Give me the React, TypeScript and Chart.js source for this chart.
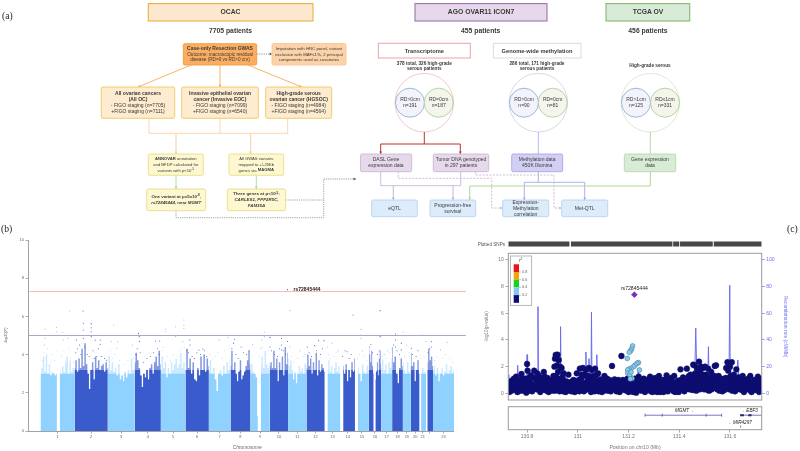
import React, { useEffect, useRef } from "react";
import { Chart, registerables } from "chart.js";
Chart.register(...registerables);

const FONT = "'Liberation Sans', Arial, sans-serif";

// ---------- Manhattan data ----------
const chromLengths = [249,243,198,191,181,171,159,146,141,135,135,133,115,107,102,90,81,78,59,63,48,51,155];
const chromLabels = ["1","2","3","4","5","6","7","8","9","10","11","12","13","14","15","16","17","18","19","20","21","","23"];
const sky1 = [3.0,3.3,3.9,3.1,4.0,3.0,3.5,2.9,3.1,3.0,2.9,3.0,null,3.2,3.0,3.4,3.1,3.6,3.9,3.0,3.7,3.1,3.3,3.1];
const sky2 = [3.3,3.7,3.1,3.8,3.3,4.3,3.4,4.6,3.5,3.0,2.2,3.2,3.6,2.7,3.9,3.3,3.7,3.2,3.4,3.5,3.1,3.6,3.3];
const sky3 = [3.3,3.9,3.2,3.6,3.1,3.3,2.9,3.5,2.7,2.9,2.6,3.1,2.8,3.2,3.0,3.8,3.2,3.4];
const sky4 = [3.6,4.1,3.7,3.3,2.9,2.3,3.0,2.8,3.2,2.7,3.3,3.5,3.0,3.6,3.9,3.4,4.2,3.5];
const sky5 = [3.2,3.9,3.3,3.6,2.8,3.3,3.0,3.6,3.2,3.5,3.8,3.3,3.5,4.1,3.3,3.6,3.2];
const sky6 = [3.2,4.3,3.3,3.8,3.0,3.6,2.7,2.6,3.3,2.9,3.9,3.2,4.0,3.1,3.8,3.4];
const sky7 = [3.1,3.7,3.0,3.3,2.7,2.1,3.0,3.2,2.9,3.4,3.0,3.6,3.2,3.8];
const sky8 = [3.4,4.2,3.2,3.6,3.0,2.6,3.1,3.7,2.7,2.9,3.1,3.4,3.7,4.2,3.5];
const sky9 = [3.1,3.5,3.1,3.0,2.8,0.8,null,3.4,3.9,3.3,4.2,3.5,3.3,3.6];
const sky10 = [3.4,3.6,3.3,4.2,3.3,3.8,2.6,3.6,3.2,3.9,2.9,4.4,3.5,4.1];
const sky11 = [3.8,3.4,3.7,3.2,2.7,3.1,2.5,3.0,3.4,3.1,3.3,3.0,3.5,3.6];
const sky12 = [3.3,4.0,3.4,3.8,3.0,3.6,3.2,4.1,2.9,3.7,3.1,3.5,3.3,3.1];
const sky13 = [null,null,3.2,3.7,3.1,3.4,3.0,3.3,3.6,3.1,3.4,3.0];
const sky14 = [null,null,3.4,3.0,3.5,2.6,3.2,2.8,3.6,3.1,3.8];
const sky15 = [null,null,3.3,3.0,2.6,3.5,3.1,3.0,3.4,3.2];
const sky16 = [4.3,4.0,3.6,4.2,3.4,3.0,null,2.7,3.1,3.6,2.9,3.8,4.2,3.5];
const sky17 = [3.3,3.7,3.2,3.5,3.0,3.6,3.3,3.8];
const sky18 = [4.4,3.6,3.9,3.0,2.5,3.3,3.8,3.4];
const sky19 = [3.6,3.2,3.0,3.6,3.1,3.4];
const sky20 = [4.1,3.4,3.6,2.6,3.2,3.7,3.0];
const sky21 = [null,3.0,3.3,3.1,3.0];
const sky22 = [null,3.6,4.3,3.7,3.9,3.4];
const sky23 = [3.2,3.4,2.9,3.3,2.6,3.0,3.3,2.9,3.1,3.5,3.0,3.2,3.4,3.1,3.2];
const skylines = [sky1,sky2,sky3,sky4,sky5,sky6,sky7,sky8,sky9,sky10,sky11,sky12,sky13,sky14,sky15,sky16,sky17,sky18,sky19,sky20,sky21,sky22,sky23];
// genome position (Mb, cumulative) and -log10(P) of the points standing clear of the mass
const manhattanPeaks = [
[32,5.34],[32,4.85],[27,4.5],[116,5.43],[119,5.2],[160,5.17],[165,4.76],[201,4.85],[213,6.28],
[311,6.28],[313,5.64],[313,5.29],[313,4.85],[371,5.62],[371,5.4],[371,5.2],[371,4.94],[400,4.76],[437,4.76],[437,4.54],[262,4.76],[286,4.5],
[536,5.55],[517,4.68],[565,4.68],[558,4.33],[674,4.5],
[718,5.11],[723,4.94],[723,4.68],[844,4.71],[873,4.71],
[917,5.34],[917,5.2],[990,5.46],[990,4.94],[1050,5.81],[1050,5.55],[1050,5.37],[1043,4.68],
[1094,4.76],[1094,4.5],[1160,4.24],[1189,4.29],
[1310,4.76],[1373,4.89],
[1422,4.8],[1414,4.6],[1470,4.4],
[1553,4.54],[1640,5.17],[1640,4.94],[1621,4.76],[1616,4.33],
[1681,4.9],[1681,4.4],[1766,4.85],[1766,4.5],[1766,4.24],[1810,4.7],[1810,7.4],
[1827,6.3],[1827,4.4],[1900,4.2],
[2038,4.73],[2077,4.73],[2009,4.47],[1955,4.4],
[2101,4.4],[2137,4.6],[2179,4.2],
[2290,6.07],[2283,5.0],[2246,4.15],
[2348,5.32],[2348,5.03],[2348,4.85],[2360,4.2],
[2489,6.3],[2489,4.94],[2421,4.54],
[2542,4.2],[2518,4.0],
[2601,5.08],[2601,4.76],[2601,4.4],[2644,4.6],[2644,4.25],
[2659,5.17],[2683,4.5],[2717,4.33],[2766,4.2],
[2795,5.03],[2824,4.68],[2863,4.68],[2863,4.4],[2979,4.64],[2931,4.25],
];
const manhattanFringe = [
[12,3.7],[24,4.1],[40,3.8],[52,4.3],[71,3.6],[88,4.0],[103,3.7],[124,4.2],[152,3.9],[171,4.2],[186,3.7],[204,4.3],[222,3.8],[240,3.6],
[258,4.1],[272,4.3],[296,4.0],[322,4.4],[342,4.0],[356,3.9],[384,4.2],[392,3.8],[412,3.9],[424,4.3],[448,3.9],[468,3.8],[482,3.7],
[500,3.9],[510,4.2],[528,3.8],[545,4.0],[578,3.7],[612,3.5],[640,3.7],[662,4.0],[682,3.8],
[698,4.0],[708,4.3],[730,4.1],[752,3.6],[780,3.8],[804,3.9],[826,4.1],[856,4.3],[868,4.0],
[890,4.2],[903,4.4],[930,3.9],[950,3.7],[972,4.0],[1006,3.9],[1022,4.2],[1036,4.3],[1056,4.4],
[1072,4.2],[1084,4.1],[1110,3.9],[1128,3.8],[1146,4.1],[1172,4.0],[1200,4.2],[1218,3.9],
[1242,4.0],[1262,3.8],[1284,3.9],[1300,4.1],[1330,3.8],[1350,4.2],[1384,4.3],
[1402,4.3],[1432,4.0],[1448,3.8],[1486,4.1],[1510,4.0],[1528,4.2],
[1544,3.9],[1600,3.9],[1628,4.4],[1652,4.0],[1668,4.2],
[1692,4.2],[1712,4.0],[1736,3.9],[1752,4.3],[1778,4.2],[1796,4.0],
[1838,3.9],[1858,3.6],[1884,3.8],[1924,3.9],[1940,4.0],
[1968,4.1],[1986,3.9],[2022,4.2],[2052,4.0],[2066,4.3],
[2110,4.0],[2124,3.8],[2152,3.9],[2166,4.1],
[2214,3.9],[2232,4.2],[2262,3.8],[2276,4.0],
[2322,3.8],[2336,4.0],[2376,3.9],[2392,3.7],
[2412,4.4],[2432,4.1],[2470,4.0],[2482,4.2],
[2508,3.9],[2530,3.8],[2560,4.1],[2570,4.3],
[2586,4.5],[2612,4.2],[2630,4.0],[2668,3.9],[2700,4.1],[2726,4.0],[2752,3.9],[2786,3.8],[2810,3.9],[2840,4.1],[2852,4.3],
[2890,3.7],[2910,3.9],[2950,3.8],[2968,4.0],[3000,3.8],[3020,3.6],
];
const leadManhattan = [1810,7.4];
const genomeWideLine = 7.3;
const suggestiveLine = 5;

// ---------- Locus data ----------
const locusNavy = [
[130.73,0.1],[130.735,0.55],[130.74,0.95],[130.745,0.25],[130.752,0.7],[130.757,1.25],[130.762,0.1],[130.768,0.45],[130.772,0.95],[130.778,1.45],[130.782,0.2],[130.787,0.65],[130.793,1.1],[130.797,0.05],[130.8,2.2],[130.802,1.7],[130.806,0.45],[130.81,0.9],[130.815,1.35],[130.82,0.15],[130.824,0.6],[130.828,1.7],[130.832,1.1],[130.838,0.3],[130.842,0.85],[130.846,1.35],[130.852,0.1],[130.856,0.55],[130.862,1.0],[130.866,1.6],[130.87,0.25],[130.875,0.75],[130.88,1.15],[130.885,0.1],[130.89,0.5],[130.895,0.95],
[130.9,0.2],[130.904,1.3],[130.908,2.0],[130.91,2.6],[130.913,2.88],[130.915,0.65],[130.918,2.1],[130.92,2.9],[130.922,1.6],[130.925,2.5],[130.928,0.15],[130.93,2.0],[130.932,1.1],[130.936,1.9],[130.94,0.55],[130.944,1.5],[130.948,0.9],[130.952,0.1],[130.958,0.6],[130.963,1.4],[130.968,0.25],[130.972,0.85],[130.978,0.4],[130.983,1.0],[130.988,0.1],[130.992,0.65],[130.996,1.5],
[131,0.25],[131.004,1.0],[131.008,1.85],[131.012,0.5],[131.016,1.4],[131.02,1.9],[131.024,0.15],[131.028,0.8],[131.032,1.75],[131.036,1.25],[131.04,0.45],[131.044,1.9],[131.048,1.0],[131.052,0.1],[131.056,1.75],[131.06,0.6],[131.064,1.3],[131.068,1.85],[131.072,0.25],[131.076,0.95],[131.08,1.5],[131.085,0.5],[131.09,1.05],[131.095,0.1],[131.1,0.7],[131.105,1.3],[131.11,0.3],[131.115,1.1],[131.12,0.55],[131.125,1.0],[131.13,0.15],[131.135,2.05],[131.14,0.7],[131.145,1.05],[131.15,0.3],[131.155,0.9],[131.16,1.0],[131.165,0.1],[131.172,2.8],[131.17,0.6],[131.178,1.0],[131.184,0.25],[131.19,0.75],[131.196,1.1],
[131.2,0.1],[131.205,0.55],[131.21,0.95],[131.215,0.25],[131.22,0.7],[131.225,1.1],[131.23,0.05],[131.235,0.5],[131.24,1.25],[131.245,0.8],[131.25,0.2],[131.255,0.65],[131.26,1.1],[131.265,0.1],[131.27,0.5],[131.275,0.95],[131.28,0.3],[131.285,1.25],[131.29,0.7],[131.295,0.1],[131.3,0.55],[131.305,1.15],[131.31,0.25],[131.315,0.8],[131.32,1.3],[131.325,0.1],[131.33,0.6],[131.335,1.0],[131.34,0.3],[131.345,0.8],[131.35,1.35],[131.355,0.15],[131.36,0.6],[131.365,1.0],[131.37,0.3],[131.375,0.85],[131.38,1.3],[131.385,0.1],[131.39,0.55],[131.395,0.95],
[131.4,0.25],[131.405,1.8],[131.41,0.7],[131.415,1.2],[131.42,0.15],[131.425,0.6],[131.43,1.85],[131.435,1.0],[131.44,0.3],[131.445,1.4],[131.45,0.8],[131.455,2.15],[131.46,2.1],[131.463,1.5],[131.467,0.2],[131.47,1.9],[131.475,0.65],[131.478,2.37],[131.482,1.6],[131.486,2.0],[131.49,1.05],[131.494,1.9],[131.498,0.3],[131.502,2.0],[131.506,1.4],[131.51,0.75],[131.514,1.85],[131.518,0.2],[131.522,1.2],[131.526,1.6],[131.53,0.55],[131.535,1.0],[131.54,2.05],[131.545,2.1],[131.55,0.3],[131.555,1.3],[131.56,0.7],[131.565,1.1],[131.57,0.15],[131.575,1.0],[131.58,0.6],[131.585,1.9],[131.59,2.33],[131.593,1.7],[131.597,0.3],[131.6,2.0],[131.603,1.3],[131.607,2.33],[131.61,0.8],[131.615,1.4],[131.62,0.15],[131.625,1.8],[131.63,0.7],[131.635,1.2],
[131.64,0.3],[131.645,0.95],[131.65,1.3],[131.655,0.1],[131.66,0.6],[131.665,1.0],[131.67,0.3],[131.675,0.85],[131.68,1.3],[131.685,0.1],[131.69,0.5],[131.695,1.0],[131.7,0.25],[131.705,0.75],[131.71,1.25],[131.715,0.1],[131.72,0.6],[131.722,1.05],
];
const locusNavyFill = [
[130.728,0.4],[130.733,0.8],[130.738,0.2],[130.743,0.6],[130.748,1.1],[130.754,0.35],[130.759,0.85],[130.765,0.6],[130.77,0.2],[130.775,0.75],[130.78,1.15],[130.785,0.4],[130.79,0.85],[130.795,0.3],[130.804,0.75],[130.808,1.15],[130.812,0.2],[130.818,0.7],[130.822,1.2],[130.827,0.35],[130.835,0.7],[130.84,1.5],[130.844,0.3],[130.849,0.75],[130.854,1.15],[130.859,0.3],[130.864,0.65],[130.869,1.25],[130.873,0.45],[130.878,0.2],[130.883,0.8],[130.888,1.0],[130.892,0.25],[130.897,0.7],
[130.902,0.45],[130.906,0.9],[130.91,0.2],[130.914,1.3],[130.918,0.5],[130.923,1.0],[130.927,0.4],[130.931,0.75],[130.935,0.3],[130.939,1.2],[130.943,0.15],[130.946,0.65],[130.95,0.4],[130.955,0.9],[130.96,0.2],[130.965,0.75],[130.97,0.5],[130.975,0.15],[130.98,0.75],[130.985,0.3],[130.99,0.9],[130.994,0.25],[130.998,0.8],
[131.002,0.45],[131.006,0.15],[131.01,0.85],[131.014,1.15],[131.018,0.4],[131.022,0.75],[131.026,1.4],[131.03,0.25],[131.034,0.6],[131.038,0.85],[131.042,1.3],[131.046,0.3],[131.05,0.65],[131.054,1.25],[131.058,0.3],[131.062,1.0],[131.066,0.15],[131.07,0.7],[131.074,1.4],[131.078,0.45],[131.082,0.15],[131.087,0.8],[131.092,0.35],[131.097,0.9],[131.102,0.2],[131.107,0.65],[131.112,0.85],[131.117,0.2],[131.122,0.9],[131.127,0.35],[131.132,0.75],[131.138,0.3],[131.143,0.55],[131.148,0.8],[131.153,0.15],[131.158,0.5],[131.163,0.7],[131.168,0.3],[131.175,0.35],[131.181,0.75],[131.187,0.5],[131.193,0.2],[131.198,0.7],
[131.203,0.25],[131.208,0.75],[131.213,0.5],[131.218,0.1],[131.223,0.4],[131.228,0.85],[131.233,0.3],[131.238,0.85],[131.243,0.3],[131.248,0.6],[131.253,1.0],[131.258,0.35],[131.263,0.8],[131.268,0.25],[131.273,0.7],[131.278,1.05],[131.283,0.55],[131.288,0.15],[131.293,0.9],[131.298,0.35],[131.303,0.8],[131.308,0.5],[131.313,0.1],[131.318,0.55],[131.323,0.95],[131.328,0.35],[131.333,0.8],[131.338,0.1],[131.343,0.5],[131.348,1.05],[131.353,0.65],[131.358,0.3],[131.363,0.85],[131.368,1.15],[131.373,0.55],[131.378,0.15],[131.383,0.75],[131.388,0.3],[131.393,0.75],[131.398,0.1],
[131.403,0.55],[131.407,1.0],[131.412,0.35],[131.418,0.8],[131.423,1.1],[131.428,0.35],[131.433,0.7],[131.438,1.3],[131.443,0.55],[131.447,1.0],[131.452,0.25],[131.457,1.3],[131.461,0.6],[131.465,1.0],[131.469,0.4],[131.473,1.3],[131.477,0.9],[131.481,0.3],[131.484,1.1],[131.488,0.55],[131.492,1.4],[131.496,0.75],[131.5,1.15],[131.504,0.5],[131.508,1.1],[131.512,0.25],[131.516,0.9],[131.52,0.55],[131.524,0.85],[131.528,0.3],[131.533,0.8],[131.538,1.3],[131.543,0.4],[131.548,0.95],[131.553,0.65],[131.558,0.2],[131.563,0.85],[131.568,0.45],[131.573,0.7],[131.578,0.25],[131.583,1.15],[131.588,0.6],[131.592,1.1],[131.595,0.8],[131.599,1.2],[131.602,0.5],[131.606,1.0],[131.609,0.2],[131.613,0.9],[131.618,0.55],[131.622,1.1],[131.627,0.3],[131.632,1.0],[131.637,0.55],
[131.642,0.65],[131.647,0.25],[131.652,0.7],[131.657,1.0],[131.662,0.3],[131.667,0.75],[131.672,1.1],[131.677,0.5],[131.682,0.2],[131.687,0.75],[131.692,0.25],[131.697,0.65],[131.702,0.85],[131.707,0.3],[131.712,0.7],[131.717,0.4],[131.721,0.2],
];
const locusLightBlue = [
[131.216,3.55],[131.212,3.32],[131.208,3.18],[131.203,3.08],[131.195,2.62],[131.239,2.3],[131.233,2.25],[131.226,2.12],[131.22,2.0],[131.21,1.88],[131.202,1.82],[131.197,1.75],[131.197,1.5],[131.205,1.38],[131.214,1.12],[131.207,1.08],[131.243,1.75],[131.21,1.6],
];
const leadLocus = [131.223,7.4];
const leadName = "rs72845444";
const recombination = [
[130.726,2],[130.728,14],[130.731,3],[130.75,4],[130.761,3],[130.763,21],[130.765,3],[130.78,5],[130.798,4],[130.8,29],[130.802,4],[130.82,3],[130.841,4],[130.843,65],[130.845,4],[130.87,5],[130.882,4],[130.884,13],[130.886,3],[130.93,5],[130.932,50],[130.934,5],[130.945,4],[130.947,17],[130.949,3],[130.99,4],[131.03,5],[131.032,31],[131.034,5],[131.042,4],[131.044,26],[131.046,4],[131.052,5],[131.054,61],[131.056,5],[131.073,4],[131.075,29],[131.077,3],[131.14,2],[131.2,3],[131.236,3],[131.238,16],[131.24,3],[131.3,2],[131.4,3],[131.46,4],[131.465,49],[131.47,5],[131.512,4],[131.515,35],[131.518,4],[131.55,3],[131.596,4],[131.599,81],[131.601,4],[131.625,6],[131.631,25],[131.637,5],[131.68,3],[131.682,15],[131.684,3],[131.71,2],[131.712,12],[131.714,2],[131.725,3],
];
const snpRugSegments = [[130.726,130.967],[130.973,131.373],[131.376,131.4],[131.403,131.532],[131.536,131.725]];
const locusXTicks = [130.8,131,131.2,131.4,131.6];
const mgmtSpan = [131.265,131.567];
const mgmtExons = [131.265,131.333,131.506,131.567];
const ebf3Span = [131.64,131.725];
const ebf3Exons = [[131.64,131.655],[131.672,131.685]];
const mirTick = [131.642];

const LIGHT = "#8fd1ff";
const DARK = "#3a5bcb";
const REC = "#6d6df0";
const AX = "#8a8a8a";
const TXT = "#777";

function useChart(factory: () => any) {
  const ref = useRef<HTMLCanvasElement | null>(null);
  useEffect(() => {
    const c = new Chart(ref.current as HTMLCanvasElement, factory());
    return () => c.destroy();
  }, []);
  return ref;
}

const chromStarts = chromLengths.reduce((acc: number[], l, i) => { acc.push(i === 0 ? 0 : acc[i - 1] + chromLengths[i - 1]); return acc; }, []);
const chromOf = (mb: number) => { let k = 0; chromStarts.forEach((s, i) => { if (mb >= s) k = i; }); return k; };

function manhattanConfig() {
  const xMin = -88.6, xMax = 3118;
  const sets: any[] = [];
  const toXY = (p: number[]) => ({ x: p[0], y: p[1] });
  sets.push({ type: "line", data: [{ x: xMin, y: genomeWideLine }, { x: xMax, y: genomeWideLine }], borderColor: "#f7b9b9", borderWidth: 1, pointRadius: 0 });
  sets.push({ type: "line", data: [{ x: xMin, y: suggestiveLine }, { x: xMax, y: suggestiveLine }], borderColor: "#a8a8c6", borderWidth: 1, pointRadius: 0 });
  sets.push({ type: "scatter", data: manhattanPeaks.filter(p => chromOf(p[0]) % 2 === 0).map(toXY), pointRadius: 0.55, pointBackgroundColor: "#74c2fb", pointBorderWidth: 0 });
  sets.push({ type: "scatter", data: manhattanPeaks.filter(p => chromOf(p[0]) % 2 === 1).map(toXY), pointRadius: 0.55, pointBackgroundColor: DARK, pointBorderWidth: 0 });
  sets.push({ type: "scatter", data: manhattanFringe.filter(p => chromOf(p[0]) % 2 === 0).map(toXY), pointRadius: 0.5, pointBackgroundColor: "#a9dcff", pointBorderWidth: 0 });
  sets.push({ type: "scatter", data: manhattanFringe.filter(p => chromOf(p[0]) % 2 === 1).map(toXY), pointRadius: 0.5, pointBackgroundColor: DARK, pointBorderWidth: 0 });
  skylines.forEach((sky, c) => {
    const step = chromLengths[c] / (sky.length - 1);
    const odd = c % 2 === 1;
    const cap = odd ? 3.2 : 3.0;
    const pts = (f: (v: number) => number) => sky.map((v, i) => ({ x: chromStarts[c] + i * step, y: v === null ? null : f(v as number) }));
    sets.push({
      type: "line", data: pts(v => Math.min(v, cap)), borderWidth: 0, pointRadius: 0, stepped: "middle", spanGaps: false,
      fill: "origin", backgroundColor: odd ? DARK : LIGHT,
    });
    sets.push({
      type: "line", data: pts(v => v), borderWidth: 0, pointRadius: 0, stepped: "middle", spanGaps: false,
      fill: "origin", backgroundColor: odd ? "rgba(58,91,203,0.62)" : "rgba(143,209,255,0.45)",
    });
  });
  const labelPlugin = {
    id: "leadLabel",
    afterDraw(ch: any) {
      const g = ch.ctx;
      g.save();
      g.fillStyle = "#222";
      g.font = `bold 5px ${FONT}`;
      g.textBaseline = "middle";
      g.fillText(leadName, ch.scales.x.getPixelForValue(leadManhattan[0]) + 6, ch.scales.y.getPixelForValue(leadManhattan[1]) - 0.5);
      g.strokeStyle = AX; g.lineWidth = 0.8;
      g.beginPath();
      g.moveTo(ch.chartArea.left, ch.chartArea.bottom + 0.5);
      g.lineTo(ch.scales.x.getPixelForValue(3031), ch.chartArea.bottom + 0.5);
      g.stroke();
      g.restore();
    },
  };
  return {
    type: "scatter",
    data: { datasets: sets },
    plugins: [labelPlugin],
    options: {
      animation: false, responsive: false, events: [],
      layout: { padding: { left: 4, top: 10, right: 0, bottom: 0 } },
      plugins: { legend: { display: false }, tooltip: { enabled: false } },
      scales: {
        x: {
          type: "linear", min: xMin, max: xMax,
          afterFit: (s: any) => { s.height = 20; },
          afterBuildTicks: (s: any) => { s.ticks = chromLengths.map((l, i) => ({ value: chromStarts[i] + l / 2, label: chromLabels[i] })); },
          afterTickToLabelConversion: (s: any) => { s.ticks.forEach((t: any, i: number) => { t.label = chromLabels[i]; }); },
          border: { display: false },
          grid: { drawOnChartArea: false, drawTicks: true, tickLength: 2.5, color: AX, lineWidth: 0.7 },
          ticks: { autoSkip: false, maxRotation: 0, color: "#666", padding: 1, font: { size: 4, family: FONT } },
          title: { display: true, text: "Chromosome", color: "#666", padding: { top: 1, bottom: 0 }, font: { size: 4.8, family: FONT, style: "italic" } },
        },
        y: {
          min: 0, max: 10,
          afterFit: (s: any) => { s.width = 24.5; },
          ticks: { stepSize: 2, color: "#666", padding: 1.5, font: { size: 4, family: FONT } },
          border: { color: AX, width: 0.8 },
          grid: { drawOnChartArea: false, drawTicks: true, tickLength: 3, color: AX, lineWidth: 0.7 },
          title: { display: true, text: "-log10(P)", color: "#666", padding: { top: 0, bottom: 0 }, font: { size: 3.9, family: FONT, style: "italic" } },
        },
      },
    },
  };
}

const LOCUS_MIN = 130.726, LOCUS_MAX = 131.725;

function locusConfig() {
  const framePlugin = {
    id: "frame",
    afterDraw(ch: any) {
      const a = ch.chartArea, g = ch.ctx;
      g.save();
      g.strokeStyle = "#9a9a9a"; g.lineWidth = 1;
      g.strokeRect(a.left, a.top, a.right - a.left, a.bottom - a.top);
      g.fillStyle = "#222"; g.font = `5.1px ${FONT}`; g.textAlign = "center";
      g.fillText(leadName, ch.scales.x.getPixelForValue(leadLocus[0]), ch.scales.y.getPixelForValue(leadLocus[1]) - 4.5);
      g.restore();
    },
  };
  const navy = { type: "scatter", pointRadius: 2.9, pointBackgroundColor: "#0b0b78", pointBorderColor: "#14145a", pointBorderWidth: 0.5, yAxisID: "y" };
  return {
    type: "scatter",
    data: {
      datasets: [
        { type: "scatter", data: [{ x: leadLocus[0], y: leadLocus[1] }], pointStyle: "rectRot", pointRadius: 3, pointBackgroundColor: "#7b2fbe", pointBorderColor: "#7b2fbe", pointBorderWidth: 0.5, yAxisID: "y" },
        { type: "scatter", data: locusLightBlue.map(p => ({ x: p[0], y: p[1] })), pointRadius: 2.4, pointBackgroundColor: "#87ceeb", pointBorderColor: "#4a78a8", pointBorderWidth: 0.6, yAxisID: "y" },
        { ...navy, data: locusNavy.map(p => ({ x: p[0], y: p[1] })) },
        { ...navy, data: locusNavyFill.map(p => ({ x: p[0], y: p[1] })) },
        { type: "line", data: recombination.map(p => ({ x: p[0], y: p[1] })), borderColor: REC, borderWidth: 1, pointRadius: 0, tension: 0, yAxisID: "y1" },
      ],
    },
    plugins: [framePlugin],
    options: {
      animation: false, responsive: false, events: [],
      layout: { padding: { left: 14, right: 12, top: 5.3, bottom: 5 } },
      plugins: { legend: { display: false }, tooltip: { enabled: false } },
      scales: {
        x: { type: "linear", display: false, min: LOCUS_MIN, max: LOCUS_MAX },
        y: {
          min: -0.5, max: 10.5,
          afterFit: (s: any) => { s.width = 24.3; },
          afterBuildTicks: (s: any) => { s.ticks = [0, 2, 4, 6, 8, 10].map(v => ({ value: v })); },
          border: { display: false },
          grid: { drawOnChartArea: false, drawTicks: true, tickLength: 3, color: AX, lineWidth: 0.7 },
          ticks: { color: TXT, padding: 1.5, font: { size: 5, family: FONT } },
          title: { display: true, text: "-log10(p-value)", color: TXT, padding: { top: 0, bottom: 1 }, font: { size: 4.6, family: FONT } },
        },
        y1: {
          position: "right", min: -5, max: 105,
          afterFit: (s: any) => { s.width = 26.3; },
          afterBuildTicks: (s: any) => { s.ticks = [0, 20, 40, 60, 80, 100].map(v => ({ value: v })); },
          border: { display: false },
          grid: { drawOnChartArea: false, drawTicks: true, tickLength: 3, color: REC, lineWidth: 0.7 },
          ticks: { color: REC, padding: 1.5, font: { size: 5, family: FONT } },
          title: { display: true, text: "Recombination rate (cM/Mb)", color: REC, padding: { top: 0, bottom: 1 }, font: { size: 4.9, family: FONT } },
        },
      },
    },
  };
}

function rugConfig() {
  return {
    type: "line",
    data: {
      datasets: snpRugSegments.map(s => ({
        data: [{ x: s[0], y: 0 }, { x: s[1], y: 0 }], borderColor: "#474747", borderWidth: 5, pointRadius: 0, borderCapStyle: "butt",
      })),
    },
    options: {
      animation: false, responsive: false, events: [],
      layout: { padding: { left: 38.3, right: 38.3, top: 0, bottom: 0 } },
      plugins: { legend: { display: false }, tooltip: { enabled: false } },
      scales: { x: { type: "linear", display: false, min: LOCUS_MIN, max: LOCUS_MAX }, y: { display: false, min: -1, max: 1 } },
    },
  };
}

function geneConfig() {
  const GENE = "#3c3ca8";
  const gp = {
    id: "genes",
    afterDraw(ch: any) {
      const a = ch.chartArea, g = ch.ctx, X = ch.scales.x, Y = ch.scales.y;
      g.save();
      g.strokeStyle = "#9a9a9a"; g.lineWidth = 1;
      g.strokeRect(a.left, a.top, a.right - a.left, a.bottom - a.top);
      g.fillStyle = "#222"; g.font = `italic 4.6px ${FONT}`; g.textAlign = "center"; g.textBaseline = "middle";
      g.fillText("MGMT→", X.getPixelForValue(131.42), Y.getPixelForValue(2.44));
      g.fillText("←EBF3", X.getPixelForValue(131.678), Y.getPixelForValue(2.44));
      g.fillText("←MIR4297", X.getPixelForValue(131.64), Y.getPixelForValue(0.87));
      g.restore();
    },
  };
  return {
    type: "line",
    data: {
      datasets: [
        { data: mgmtSpan.map(x => ({ x, y: 1.89 })), borderColor: GENE, borderWidth: 0.7, pointRadius: 0 },
        { type: "scatter", data: mgmtExons.map(x => ({ x, y: 1.89 })), pointStyle: "line", rotation: 90, pointRadius: 1.5, pointBorderColor: GENE, pointBorderWidth: 0.7 },
        { data: ebf3Span.map(x => ({ x, y: 1.89 })), borderColor: GENE, borderWidth: 0.7, pointRadius: 0 },
        ...ebf3Exons.map(e => ({ data: e.map(x => ({ x, y: 1.89 })), borderColor: "#14146e", borderWidth: 2, pointRadius: 0 })),
        { type: "scatter", data: mirTick.map(x => ({ x, y: 0.41 })), pointStyle: "line", rotation: 90, pointRadius: 1, pointBorderColor: GENE, pointBorderWidth: 0.7 },
      ],
    },
    plugins: [gp],
    options: {
      animation: false, responsive: false, events: [],
      layout: { padding: { left: 38.3, right: 38.3, top: 4, bottom: 0 } },
      plugins: { legend: { display: false }, tooltip: { enabled: false } },
      scales: {
        x: {
          type: "linear", min: LOCUS_MIN, max: LOCUS_MAX,
          afterFit: (s: any) => { s.height = 21.3; },
          afterBuildTicks: (s: any) => { s.ticks = locusXTicks.map(v => ({ value: v })); },
          border: { display: false },
          grid: { drawOnChartArea: false, drawTicks: true, tickLength: 3, color: AX, lineWidth: 0.7 },
          ticks: { color: TXT, padding: 1, maxRotation: 0, font: { size: 5, family: FONT }, callback: (v: number) => String(v) },
          title: { display: true, text: "Position on chr10 (Mb)", color: TXT, padding: { top: 1, bottom: 0 }, font: { size: 5.1, family: FONT } },
        },
        y: { display: false, min: 0, max: 3 },
      },
    },
  };
}

// ---------- Flowchart parts ----------
type BoxP = { x: number; y: number; x2: number; y2: number; fill: string; stroke: string; sw?: number; r?: number };
const Box = ({ x, y, x2, y2, fill, stroke, sw = 0.9, r = 1.5 }: BoxP) => (
  <rect x={x} y={y} width={x2 - x} height={y2 - y} fill={fill} stroke={stroke} strokeWidth={sw} rx={r} />
);
const T = ({ x, y, size = 5, bold, color = "#3a3a3a", children }: any) => (
  <text x={x} y={y} fontSize={size} fontWeight={bold ? 700 : 400} fill={color} textAnchor="middle" dominantBaseline="middle" fontFamily={FONT}>{children}</text>
);
const Path = ({ pts, color, w = 0.9, dash, head = true }: any) => {
  const n = pts.length;
  const [ax, ay] = pts[n - 2], [bx, by] = pts[n - 1];
  const l = Math.hypot(bx - ax, by - ay) || 1;
  const ux = (bx - ax) / l, uy = (by - ay) / l;
  const s = 2.4;
  return (
    <g>
      <polyline points={pts.map((p: number[]) => p.join(",")).join(" ")} fill="none" stroke={color} strokeWidth={w} strokeDasharray={dash} />
      {head && <polygon points={`${bx},${by} ${bx - ux * s - uy * s * 0.6},${by - uy * s + ux * s * 0.6} ${bx - ux * s + uy * s * 0.6},${by - uy * s - ux * s * 0.6}`} fill={color} />}
    </g>
  );
};
const Circ = ({ cx, r, stroke, fill = "#fff", cy = 102.7 }: any) => <circle cx={cx} cy={cy} r={r} stroke={stroke} fill={fill} strokeWidth={0.8} />;

const Flow = () => (
  <svg width={800} height={451} style={{ position: "absolute", left: 0, top: 0, pointerEvents: "none" }}>
    <text x={2} y={19} fontSize={9.6} fontFamily="'Liberation Serif', serif" fill="#222">(a)</text>
    <text x={1} y={232} fontSize={9.6} fontFamily="'Liberation Serif', serif" fill="#222">(b)</text>
    <text x={787} y={232} fontSize={9.6} fontFamily="'Liberation Serif', serif" fill="#222">(c)</text>

    {/* headers */}
    <Box x={148.3} y={3.6} x2={313} y2={21} fill="#fbe8cf" stroke="#eab23f" sw={1.1} r={0} />
    <T x={230.5} y={11.8} size={6.8} bold>OCAC</T>
    <T x={230.5} y={31} size={6.8} bold>7705 patients</T>
    <Box x={415} y={3.6} x2={547} y2={21} fill="#e8d8ec" stroke="#9a76a8" sw={1.1} r={0} />
    <T x={481} y={11.8} size={6.8} bold>AGO OVAR11 ICON7</T>
    <T x={480.7} y={31} size={6.8} bold>455 patients</T>
    <Box x={606} y={3.6} x2={689.7} y2={21} fill="#d8ebd6" stroke="#86b96c" sw={1.1} r={0} />
    <T x={648} y={11.8} size={6.8} bold>TCGA OV</T>
    <T x={648} y={31} size={6.8} bold>456 patients</T>

    {/* OCAC arrows */}
    <Path pts={[[191, 65], [138, 87]]} color="#f5ad52" />
    <Path pts={[[220, 65], [220, 87]]} color="#f5ad52" />
    <Path pts={[[248, 65], [301.7, 87]]} color="#f5ad52" />
    <Path pts={[[257, 54], [272, 54]]} color="#555" w={0.6} dash="1.2 1" />
    <polyline points="149,118 149,133.3 287.7,133.3 287.7,118" fill="none" stroke="#fbd2a8" strokeWidth={0.9} />
    <line x1={220} y1={118} x2={220} y2={133.3} stroke="#fbd2a8" strokeWidth={0.9} />
    <Path pts={[[176, 133.3], [176, 154]]} color="#fbc797" />
    <Path pts={[[250.7, 133.3], [250.7, 154]]} color="#fbc797" />
    <Path pts={[[176, 175.3], [176, 189]]} color="#a8dc8c" />
    <Path pts={[[256.3, 175.3], [256.3, 189]]} color="#a8dc8c" />
    <polyline points="176,210.7 176,217.7 323.7,217.7 323.7,179" fill="none" stroke="#666" strokeWidth={0.6} strokeDasharray="1.2 1" />
    <polyline points="285.7,200 323.7,200" fill="none" stroke="#666" strokeWidth={0.6} strokeDasharray="1.2 1" />
    <Path pts={[[323.7, 179], [356, 179]]} color="#555" w={0.6} dash="1.2 1" />

    <Box x={183.3} y={43.7} x2={256.7} y2={65} fill="#fbae62" stroke="#f09b3c" />
    <T x={220} y={48.2} size={5} bold>Case-only Resection GWAS</T>
    <T x={220} y={54.3} size={4.7}>Outcome: macroscopic residual</T>
    <T x={220} y={60.2} size={4.7}>disease (RD=0 vs RD&gt;0 cm)</T>
    <Box x={272} y={43.5} x2={346} y2={65} fill="#fcd2a8" stroke="#fbc591" />
    <T x={309} y={48.5} size={4.3}>Imputation with HRC panel, variant</T>
    <T x={309} y={54.4} size={4.3}>exclusion with MAF≤1%, 2 principal</T>
    <T x={309} y={60.2} size={4.3}>components used as covariates</T>

    <Box x={101.3} y={87} x2={174.7} y2={118.3} fill="#fdeccf" stroke="#eeca62" />
    <T x={138} y={94} bold>All ovarian cancers</T>
    <T x={138} y={100} bold>(All OC)</T>
    <T x={138} y={106}>- FIGO staging (n=7705)</T>
    <T x={138} y={112}>+FIGO staging (n=7111)</T>
    <Box x={181.7} y={87} x2={258.3} y2={118.3} fill="#fdeccf" stroke="#eeca62" />
    <T x={220} y={94} bold>Invasive epithelial ovarian</T>
    <T x={220} y={100} bold>cancer (Invasive EOC)</T>
    <T x={220} y={106}>- FIGO staging (n=7099)</T>
    <T x={220} y={112}>+FIGO staging (n=6540)</T>
    <Box x={265.7} y={87} x2={331.7} y2={118.3} fill="#fdeccf" stroke="#eeca62" />
    <T x={298.7} y={94} bold>High-grade serous</T>
    <T x={298.7} y={100} bold>ovarian cancer (HGSOC)</T>
    <T x={298.7} y={106}>- FIGO staging (n=4984)</T>
    <T x={298.7} y={112}>+FIGO staging (n=4564)</T>

    <Box x={148.3} y={154} x2={203.3} y2={175.3} fill="#fdf8d2" stroke="#e9df82" />
    <T x={175.8} y={158.8} size={4.2}><tspan fontWeight={700}>ANNOVAR</tspan> annotation</T>
    <T x={175.8} y={164.6} size={4.2}>and BFDP calculated for</T>
    <T x={175.8} y={170.4} size={4.2}>variants with p&lt;10<tspan fontSize={3} dy={-1.2}>-5</tspan></T>
    <Box x={229} y={154} x2={283.7} y2={175.3} fill="#fdf8d2" stroke="#e9df82" />
    <T x={256.3} y={158.8} size={4.2}>All GWAS variants</T>
    <T x={256.3} y={164.6} size={4.2}>mapped to +/-25Kb</T>
    <T x={256.3} y={170.4} size={4.2}>genes via <tspan fontWeight={700}>MAGMA</tspan></T>
    <Box x={146.7} y={189} x2={205.7} y2={210.7} fill="#fdf8d2" stroke="#e9df82" />
    <T x={176.2} y={196.5} size={4.4} bold>One variant at p=5x10<tspan fontSize={3} dy={-1.2}>-8</tspan><tspan dy={1.2}>,</tspan></T>
    <T x={176.2} y={203} size={4.4} bold><tspan fontStyle="italic">rs72845444</tspan>, near <tspan fontStyle="italic">MGMT</tspan></T>
    <Box x={227.3} y={189} x2={285.7} y2={210.7} fill="#fdf8d2" stroke="#e9df82" />
    <T x={256.5} y={194} size={4.4} bold>Three genes at p&lt;10<tspan fontSize={3} dy={-1.2}>-5</tspan><tspan dy={1.2}>:</tspan></T>
    <T x={256.5} y={200} size={4.4} bold><tspan fontStyle="italic">CARLES1, PPP2R5C,</tspan></T>
    <T x={256.5} y={206} size={4.4} bold><tspan fontStyle="italic">FAM35A</tspan></T>

    {/* AGO */}
    <Box x={378.3} y={43.3} x2={470.3} y2={58} fill="#fff" stroke="#e8a5a5" sw={1} r={0} />
    <T x={424.3} y={51} size={5.7} bold>Transcriptome</T>
    <Box x={493.3} y={43.3} x2={581} y2={58} fill="#fff" stroke="#e3d6e6" sw={1} r={0} />
    <T x={537} y={51} size={5.7} bold>Genome-wide methylation</T>
    <T x={424.3} y={63.3} size={4.7} bold>378 total, 326 high-grade</T>
    <T x={424.3} y={69.2} size={4.7} bold>serous patients</T>
    <T x={537} y={63.3} size={4.7} bold>286 total, 171 high-grade</T>
    <T x={537} y={69.2} size={4.7} bold>serous patients</T>
    <T x={650} y={66.2} size={4.7} bold>High-grade serous</T>

    <Circ cx={424.3} r={29.3} stroke="#f0bcb8" />
    <Circ cx={410} r={14.5} stroke="#8aa6d2" fill="#f3f4fb" />
    <Circ cx={438.7} r={14.5} stroke="#a6c890" fill="#f4f6ec" />
    <T x={410} y={100}>RD&gt;0cm</T><T x={410} y={106}>n=191</T>
    <T x={438.7} y={100}>RD=0cm</T><T x={438.7} y={106}>n=187</T>
    <Circ cx={538.3} r={29.3} stroke="#cfcde6" />
    <Circ cx={524} r={14.5} stroke="#8aa6d2" fill="#f3f4fb" />
    <Circ cx={552.7} r={14.5} stroke="#a6c890" fill="#f4f6ec" />
    <T x={524} y={100}>RD&gt;0cm</T><T x={524} y={106}>n=90</T>
    <T x={552.7} y={100}>RD=0cm</T><T x={552.7} y={106}>n=81</T>
    <Circ cx={650.3} r={29.3} stroke="#cfe6c6" />
    <Circ cx={636} r={14.5} stroke="#8aa6d2" fill="#f3f4fb" />
    <Circ cx={665} r={14.5} stroke="#a6c890" fill="#f4f6ec" />
    <T x={636} y={100}>RD&gt;1cm</T><T x={636} y={106}>n=125</T>
    <T x={665} y={100}>RD≤1cm</T><T x={665} y={106}>n=331</T>

    <polyline points="424.3,132 424.3,144" fill="none" stroke="#b8352f" strokeWidth={1} />
    <Path pts={[[424.3, 144], [380.7, 144], [380.7, 154]]} color="#b8352f" w={1} />
    <Path pts={[[424.3, 144], [460.3, 144], [460.3, 154]]} color="#b8352f" w={1} />
    <polyline points="538.3,132 538.3,154" fill="none" stroke="#b3aef5" strokeWidth={0.9} />
    <polyline points="538.3,171.7 538.3,182.3" fill="none" stroke="#a9a4f5" strokeWidth={0.9} />
    <Path pts={[[538.3, 182.3], [524.3, 182.3], [524.3, 200]]} color="#a9a4f5" />
    <Path pts={[[538.3, 182.3], [584.7, 182.3], [584.7, 200]]} color="#a9a4f5" />
    <polyline points="650.3,132 650.3,154" fill="none" stroke="#aed898" strokeWidth={0.9} />
    <Path pts={[[650.3, 171.7], [650.3, 186], [469.7, 186], [469.7, 200]]} color="#a5d48a" />
    <polyline points="380.7,171.7 380.7,185.7 460.7,185.7 460.7,171.7" fill="none" stroke="#cbb6da" strokeWidth={0.9} />
    <Path pts={[[393.3, 185.7], [393.3, 200]]} color="#c3aed6" />
    <Path pts={[[453, 185.7], [453, 200]]} color="#c3aed6" />
    <Path pts={[[398.3, 171.7], [398.3, 178.3], [491.7, 178.3], [491.7, 208], [502.7, 208]]} color="#c9b3da" dash="2 1.4" />
    <Path pts={[[475.7, 171.7], [475.7, 175], [554, 175], [554, 208], [561.7, 208]]} color="#c9b3da" dash="2 1.4" />

    <Box x={360.5} y={154} x2={411.7} y2={171.7} fill="#e6d9ea" stroke="#cdb9d6" />
    <T x={386} y={159.7}>DASL Gene</T><T x={386} y={165.7}>expression data</T>
    <Box x={433.3} y={154} x2={488.7} y2={171.7} fill="#e6d9ea" stroke="#cdb9d6" />
    <T x={461} y={159.7}>Tumor DNA genotyped</T><T x={461} y={165.7}>in 297 patients</T>
    <Box x={511.7} y={154} x2={562.7} y2={171.7} fill="#d2cff3" stroke="#aaa6e8" />
    <T x={537.2} y={159.7}>Methylation data</T><T x={537.2} y={165.7}>450K Illumina</T>
    <Box x={624.3} y={154} x2={675.7} y2={171.7} fill="#d8ebd6" stroke="#b8d9a8" />
    <T x={650} y={159.7}>Gene expression</T><T x={650} y={165.7}>data</T>

    <Box x={371.7} y={200} x2={417.3} y2={216.7} fill="#dcecfb" stroke="#b8d3ee" />
    <T x={394.5} y={208.5}>eQTL</T>
    <Box x={430} y={200} x2={475.7} y2={216.7} fill="#dcecfb" stroke="#b8d3ee" />
    <T x={452.8} y={205.2}>Progression-free</T><T x={452.8} y={211.2}>survival</T>
    <Box x={502.7} y={200} x2={548.7} y2={216.7} fill="#dcecfb" stroke="#b8d3ee" />
    <T x={525.7} y={202.4}>Expression-</T><T x={525.7} y={208.3}>Methylation</T><T x={525.7} y={214.2}>correlation</T>
    <Box x={561.7} y={200} x2={607.7} y2={216.7} fill="#dcecfb" stroke="#b8d3ee" />
    <T x={584.7} y={208.5}>Met-QTL</T>

    {/* Locus annotations */}
    <text x={505} y={244.5} fontSize={4.6} textAnchor="end" dominantBaseline="middle" fontFamily={FONT} fill="#555">Plotted SNPs</text>
    <rect x={510.3} y={256} width={21.4} height={49.3} fill="#fff" stroke="#9a9a9a" strokeWidth={0.7} />
    <text x={520.5} y={261.5} fontSize={4.5} fontStyle="italic" textAnchor="middle" fontFamily={FONT} fill="#444">r<tspan fontSize={3} dy={-1.5}>2</tspan></text>
    <rect x={513.7} y={264.3} width={5.3} height={7.7} fill="#e8141c" />
    <rect x={513.7} y={272} width={5.3} height={7.7} fill="#f5a30c" />
    <rect x={513.7} y={279.7} width={5.3} height={7.7} fill="#17d31c" />
    <rect x={513.7} y={287.4} width={5.3} height={7.7} fill="#85c8ee" />
    <rect x={513.7} y={295.1} width={5.3} height={7.7} fill="#0b0b78" />
    {[["0.8", 272], ["0.6", 279.7], ["0.4", 287.4], ["0.2", 295.1]].map(([l, y]) => (
      <g key={l as string}>
        <line x1={519} x2={521} y1={y as number} y2={y as number} stroke="#888" strokeWidth={0.5} />
        <text x={522} y={y as number} fontSize={3.8} dominantBaseline="middle" fontFamily={FONT} fill="#666">{l}</text>
      </g>
    ))}
  </svg>
);

export default function App() {
  const man = useChart(manhattanConfig);
  const loc = useChart(locusConfig);
  const rug = useChart(rugConfig);
  const gene = useChart(geneConfig);
  const abs = (left: number, top: number): React.CSSProperties => ({ position: "absolute", left, top, display: "block" });
  return (
    <div style={{ position: "fixed", left: 0, top: 0, width: 800, height: 451, background: "#fff", overflow: "hidden" }}>
      <canvas ref={man} width={470} height={221} style={abs(0, 230)} />
      <canvas ref={rug} width={330} height={8} style={abs(470, 240)} />
      <canvas ref={loc} width={330} height={157} style={abs(470, 248)} />
      <canvas ref={gene} width={330} height={49} style={abs(470, 402)} />
      <Flow />
    </div>
  );
}
